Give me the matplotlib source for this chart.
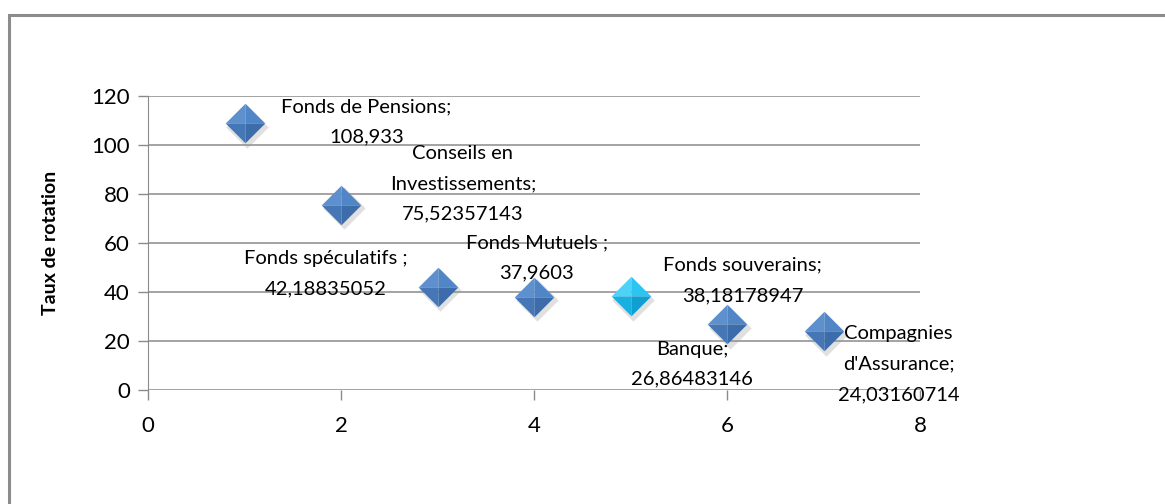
import matplotlib.pyplot as plt
from matplotlib.patches import Rectangle

# Données
x_vals = [1, 2, 3, 4, 5, 6, 7]
taux = [108.933, 75.52357143, 42.18835052, 37.9603, 38.18178947, 26.86483146, 24.03160714]
noms = ["Fonds de Pensions;", "Conseils en\nInvestissements;", "Fonds spéculatifs ;",
        "Fonds Mutuels ;", "Fonds souverains;", "Banque;", "Compagnies\nd'Assurance;"]
valeurs_txt = ["108,933", "75,52357143", "42,18835052", "37,9603",
               "38,18178947", "26,86483146", "24,03160714"]
# décalage des étiquettes (pixels)
decalages = [(122, 1), (122, 21), (-112, 13), (3, 39), (112, 16), (-35, -40), (75, -33)]
couleurs = ["blue", "blue", "blue", "blue", "cyan", "blue", "blue"]

palette = {"blue": ("#5F90CE", "#5186C6", "#4577B6", "#3C6CAA"),
           "cyan": ("#4ED2F7", "#2CC4F0", "#18B0E0", "#0F9FD0")}

FONT = "Lato"
FS = 14.5

fig = plt.figure(figsize=(11.65, 5.04), dpi=100)
ax = fig.add_axes([148/1165, 1 - 390/504, (920-148)/1165, (390-96)/504])

# Cadre extérieur
fig.patches.append(Rectangle((9/1165, -0.1), 1.2, 1 - 15/504 + 0.1, transform=fig.transFigure,
                             fill=False, edgecolor="#8c8c8c", linewidth=2.2))

ax.set_xlim(0, 8)
ax.set_ylim(0, 120)
ax.set_xticks([0, 2, 4, 6, 8])
ax.set_yticks(range(0, 121, 20))
ax.yaxis.grid(True, color="#8a8a8a", linewidth=1.1)
ax.set_axisbelow(True)
for s in ["top", "right", "bottom"]:
    ax.spines[s].set_visible(False)
ax.spines["left"].set_color("#8a8a8a")
ax.tick_params(axis="both", colors="#8a8a8a", length=7, width=1, labelcolor="black",
               labelsize=16, pad=6)
ax.tick_params(axis="x", pad=12)
for lab in ax.get_xticklabels() + ax.get_yticklabels():
    lab.set_family(FONT)
ax.set_ylabel("Taux de rotation", fontsize=14, fontweight="bold", family=FONT, labelpad=23)

# Facettes du losange (effet pyramide)
fac_hg = [(0, 0), (-1, 0), (0, 1)]
fac_hd = [(0, 0), (0, 1), (1, 0)]
fac_bg = [(0, 0), (-1, 0), (0, -1)]
fac_bd = [(0, 0), (0, -1), (1, 0)]
losange = [(-1, 0), (0, 1), (1, 0), (0, -1)]
MS = 28.5

for xv, yv, c in zip(x_vals, taux, couleurs):
    c1, c2, c3, c4 = palette[c]
    # ombre
    ax.plot(xv + 0.03, yv - 1.4, marker=losange, markersize=MS + 2, color="#999999",
            alpha=0.3, linestyle="none", markeredgewidth=0, clip_on=False)
    ax.plot(xv, yv, marker=fac_hg, markersize=MS, color=c1, linestyle="none", markeredgewidth=0, clip_on=False)
    ax.plot(xv, yv, marker=fac_hd, markersize=MS, color=c2, linestyle="none", markeredgewidth=0, clip_on=False)
    ax.plot(xv, yv, marker=fac_bg, markersize=MS, color=c3, linestyle="none", markeredgewidth=0, clip_on=False)
    ax.plot(xv, yv, marker=fac_bd, markersize=MS, color=c4, linestyle="none", markeredgewidth=0, clip_on=False)

for xv, yv, n, v, d in zip(x_vals, taux, noms, valeurs_txt, decalages):
    ax.annotate(n + "\n" + v, xy=(xv, yv), xytext=d, textcoords="offset pixels",
                ha="center", va="center", fontsize=FS, family=FONT, linespacing=1.95,
                annotation_clip=False)

fig.savefig("out.png", dpi=100)
